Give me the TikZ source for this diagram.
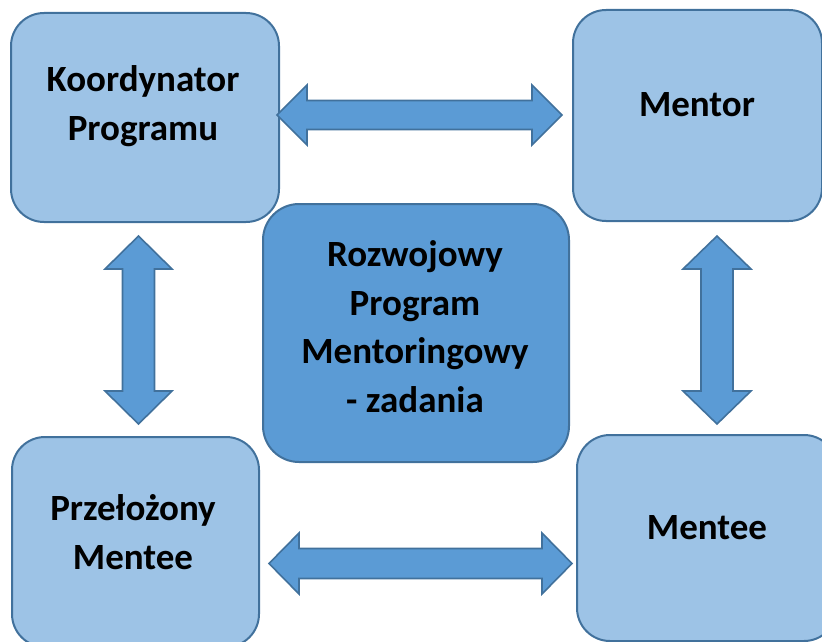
\documentclass[tikz,border=0pt]{standalone}
\usepackage{fontspec}
\setmainfont{Carlito}
\definecolor{lightc}{HTML}{9DC3E6}
\definecolor{darkc}{HTML}{5B9BD5}
\definecolor{bordc}{HTML}{41719C}
\newcommand\bidiarrow[7]{%
  % #1 x, #2 y, #3 rotation, #4 half length, #5 head length, #6 head half width, #7 shaft half width
  \path[blockarrow, shift={(#1,#2)}, rotate=#3]
    ({-#4},0) -- ({-#4+#5},{-#6}) -- ({-#4+#5},{-#7}) -- ({#4-#5},{-#7}) --
    ({#4-#5},{-#6}) -- ({#4},0) -- ({#4-#5},{#6}) -- ({#4-#5},{#7}) --
    ({-#4+#5},{#7}) -- ({-#4+#5},{#6}) -- cycle;}
\begin{document}
\begin{tikzpicture}[x=1pt,y=-1pt,
  lbox/.style={rectangle, draw=bordc, line width=2pt, fill=lightc, rounded corners=33pt, inner sep=0pt},
  cbox/.style={lbox, fill=darkc, rounded corners=36pt},
  txt/.style={align=center, font=\fontsize{37}{48.5}\selectfont\bfseries, inner sep=0pt},
  blockarrow/.style={draw=bordc, line width=1.6pt, fill=darkc, line join=miter}]
\useasboundingbox (0,0) rectangle (822,642);
\clip (0,0) rectangle (822,642);
% boxes
\node[lbox, minimum width=268pt, minimum height=209pt] (koord) at (145,117.5) {};
\node[txt] (koordt) at (143,106) {Koordynator\\Programu};
\node[lbox, minimum width=249pt, minimum height=211pt] (mentor) at (697.5,115.5) {};
\node[txt] (mentort) at (697,105) {Mentor};
\node[cbox, minimum width=306pt, minimum height=258pt] (center) at (416,333) {};
\node[txt] (centert) at (415,326.5) {Rozwojowy\\Program\\Mentoringowy\\- zadania};
\node[lbox, minimum width=247pt, minimum height=210pt] (przel) at (135.5,542) {};
\node[txt] (przelt) at (133,532) {Przełożony\\Mentee};
\node[lbox, minimum width=260pt, minimum height=206pt] (mentee) at (707,538) {};
\node[txt] (menteet) at (707,528) {Mentee};
% block arrows
\bidiarrow{419.5}{115}{0}{142.5}{30}{30}{14.5}
\bidiarrow{420.5}{563.5}{0}{151.5}{30}{30.5}{15}
\bidiarrow{138.5}{330}{90}{94}{33}{33.5}{16}
\bidiarrow{717}{330}{90}{94}{33}{34}{16}
\end{tikzpicture}
\end{document}
